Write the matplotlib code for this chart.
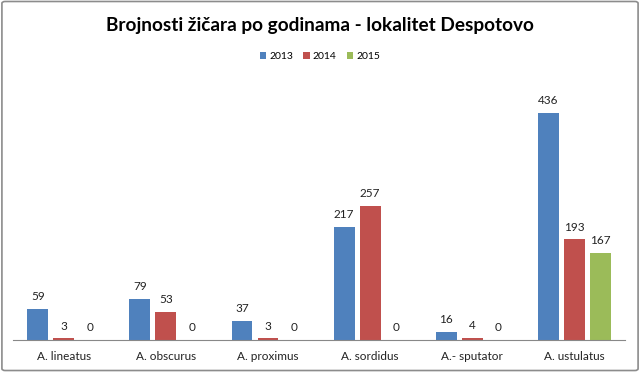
import matplotlib.pyplot as plt
import numpy as np
from matplotlib.patches import FancyBboxPatch

plt.rcParams['font.family'] = ['Lato', 'DejaVu Sans']

categories = ["A. lineatus", "A. obscurus", "A. proximus", "A. sordidus", "A.- sputator", "A. ustulatus"]
years = ["2013", "2014", "2015"]
v2013 = [59, 79, 37, 217, 16, 436]
v2014 = [3, 53, 3, 257, 4, 193]
v2015 = [0, 0, 0, 0, 0, 167]
colors = ["#4F81BD", "#C0504D", "#9BBB59"]

fig = plt.figure(figsize=(6.4, 3.72), dpi=100)
ax = fig.add_axes([0.02, 0.086, 0.957, 0.70])

x = np.arange(len(categories))
w = 0.205
step = 0.255
for i, (vals, c, lab) in enumerate(zip([v2013, v2014, v2015], colors, years)):
    pos = x + (i - 1) * step
    bars = ax.bar(pos, vals, width=w, color=c, label=lab)
    for b, v in zip(bars, vals):
        ax.annotate(str(v), (b.get_x() + b.get_width() / 2, v), xytext=(0, 5),
                    textcoords="offset points", ha="center", va="bottom",
                    fontsize=8.5, color="#222222")

ax.set_xlim(-0.5, len(categories) - 0.5)
ax.set_ylim(0, 500)
ax.set_xticks(x)
ax.set_xticklabels(categories, fontsize=8.5, color="#222222")
ax.tick_params(axis="x", length=0, pad=8)
ax.set_yticks([])
for s in ["top", "right", "left"]:
    ax.spines[s].set_visible(False)
ax.spines["bottom"].set_color("#888888")

fig.text(0.5, 0.932, "Brojnosti žičara po godinama - lokalitet Despotovo",
         ha="center", va="center", fontsize=13.7, fontweight="bold")
fig.legend(loc="center", bbox_to_anchor=(0.5, 0.848), ncol=3, frameon=False,
           fontsize=7.5, handlelength=0.6, handleheight=0.6, handletextpad=0.3,
           columnspacing=1.0)

border = FancyBboxPatch((0.003, 0.004), 0.994, 0.992, boxstyle="round,pad=0,rounding_size=0.005",
                        transform=fig.transFigure, fill=False, edgecolor="#8c8c8c", lw=1.2)
fig.patches.append(border)

fig.savefig("out.png", dpi=100)
